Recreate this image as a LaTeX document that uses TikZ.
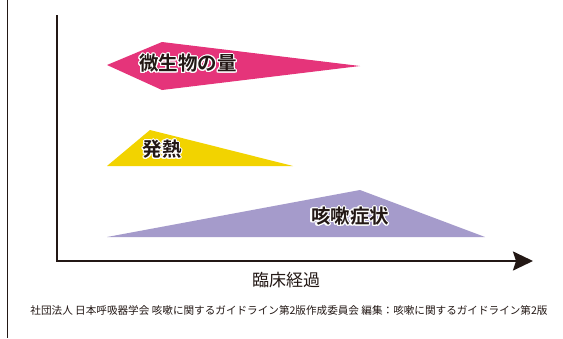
\documentclass[tikz,border=0pt]{standalone}
\usepackage{fontspec}
\setmainfont{Noto Sans CJK JP}
\newfontfamily\jpbold{Noto Sans CJK JP Bold}
\usepackage[copies]{contour}
\contourlength{1.1pt}
\contournumber{16}
\usetikzlibrary{arrows.meta}
\definecolor{inkdark}{RGB}{35,24,21}
\definecolor{mpink}{RGB}{229,52,122}
\definecolor{myellow}{RGB}{242,211,0}
\definecolor{mpurple}{RGB}{165,155,203}
\tikzset{
  halolabel/.style={font=\jpbold\fontsize{19.5}{19.5}\selectfont, text=inkdark, inner sep=0pt},
  axisline/.style={draw=inkdark, line width=2pt},
}
\begin{document}
\begin{tikzpicture}[x=1pt,y=-1pt]
\useasboundingbox (0,0) rectangle (563,338);
\fill[white] (0,0) rectangle (563,338);
% left border line
\draw[inkdark, line width=1pt] (7.5,0) -- (7.5,338);
% bands
\fill[mpink] (107,65) -- (162,42) -- (360,66) -- (162,90) -- cycle;
\fill[myellow] (107,166) -- (150,130) -- (293,166) -- cycle;
\fill[mpurple] (107,237) -- (360,190) -- (485,237) -- cycle;
% labels
\node[halolabel] (microbe) at (188,64) {\contour{white}{微生物の量}};
\node[halolabel] (fever) at (162,150) {\contour{white}{発熱}};
\node[halolabel] (cough) at (350,217) {\contour{white}{咳嗽症状}};
% axes
\coordinate (ytop) at (57,15);
\coordinate (origin) at (57,261);
\coordinate (xend) at (533,261);
\draw[axisline, -{Triangle[length=20pt,width=19pt,inset=3pt]}] (ytop) -- (origin) -- (xend);
\node[font=\fontsize{17}{17}\selectfont, text=inkdark, inner sep=0pt] (xlabel) at (286,280) {臨床経過};
\node[font=\fontsize{10.6}{10.6}\selectfont, text=inkdark, inner sep=0pt] (credit) at (289,310) {社団法人 日本呼吸器学会 咳嗽に関するガイドライン第2版作成委員会 編集：咳嗽に関するガイドライン第2版};
\end{tikzpicture}
\end{document}
